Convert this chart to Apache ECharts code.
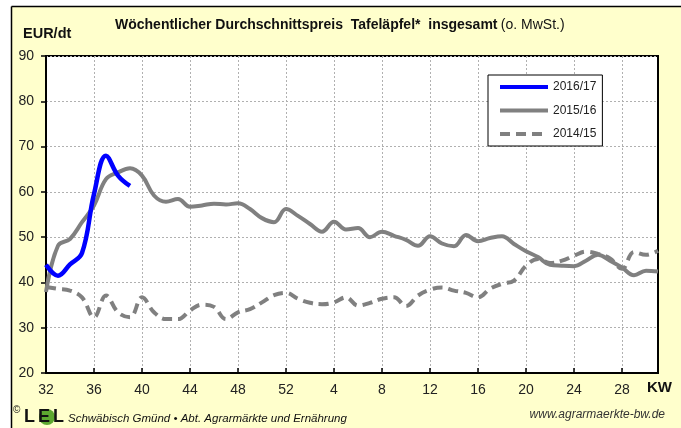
<!DOCTYPE html>
<html>
<head>
<meta charset="utf-8">
<script src="https://cdn.jsdelivr.net/npm/echarts@6/dist/echarts.min.js"></script>
<style>
	html, body { margin: 0; padding: 0; background: #fff; }
	#main { width: 681px; height: 428px; }
</style>
</head>
<body>
<div id="main"></div>
<script>
// calendar weeks, season runs from week 32 to week 31 of next year
const weeks = [32, 33, 34, 35, 36, 37, 38, 39, 40, 41, 42, 43, 44, 45, 46, 47, 48, 49, 50, 51, 52,
	1, 2, 3, 4, 5, 6, 7, 8, 9, 10, 11, 12, 13, 14, 15, 16, 17, 18, 19, 20, 21, 22, 23, 24, 25, 26, 27, 28, 29, 30, 31]

const s1617 = [43.9, 41.5, 44.0, 46.5, 59.5, 68.0, 63.6, 61.3]

const s1516 = [37.9, 48.1, 49.6, 53.3, 57.0, 62.8, 64.3, 65.2, 63.6, 59.2, 57.8, 58.4, 56.7, 57.0, 57.4, 57.2, 57.5, 56.2, 54.2, 53.3, 56.2,
	54.7, 52.9, 51.2, 53.4, 51.7, 52.0, 50.0, 51.2, 50.3, 49.4, 48.1, 50.2, 48.6, 48.0, 50.5, 49.1, 49.8, 50.2, 48.5, 46.9, 45.6, 43.9, 43.7, 43.6, 44.8, 46.1, 44.8, 43.3, 41.6, 42.6, 42.4]

const s1415 = [39.0, 38.6, 38.2, 36.7, 32.3, 37.1, 33.4, 32.3, 36.7, 33.4, 31.9, 31.9, 33.8, 35.1, 34.6, 31.9, 33.4, 34.1, 35.6, 37.2, 37.7,
	36.4, 35.5, 35.2, 35.6, 36.7, 34.9, 35.5, 36.4, 36.7, 34.8, 37.1, 38.4, 38.9, 38.2, 37.7, 36.7, 38.6, 39.7, 40.4, 43.7, 45.2, 44.3, 44.8, 45.9, 46.8, 46.3, 45.3, 43.0, 46.7, 46.1, 47.0]

const seriesNames = ['2016/17', '2015/16', '2014/15']

const chart = echarts.init(document.getElementById('main'))

const gray = '#808080'
const font = 'Liberation Sans, Arial, sans-serif'

const option = {
	animation: false,
	backgroundColor: '#FFFFCC',
	textStyle: { fontFamily: font },
	grid: {
		left: 46, right: 23, top: 56, bottom: 55,
		show: true, backgroundColor: '#fff', borderColor: '#000', borderWidth: 2,
	},
	legend: {
		orient: 'vertical',
		left: 488, top: 75,
		data: seriesNames,
		itemWidth: 48, itemHeight: 14, itemGap: 11.5,
		padding: [6, 6, 6, 10],
		backgroundColor: '#fff', borderColor: '#000', borderWidth: 1, borderRadius: 0,
		itemStyle: { opacity: 0 },
		lineStyle: { width: 4 },
		textStyle: { fontSize: 12, color: '#222', fontFamily: font },
	},
	xAxis: {
		type: 'category',
		data: weeks,
		boundaryGap: false,
		axisLine: { lineStyle: { color: '#000', width: 2 } },
		axisTick: { inside: true, length: 5, interval: 3, lineStyle: { color: '#000', width: 1.5 } },
		axisLabel: { interval: 3, margin: 10, fontSize: 14, color: '#222' },
		splitLine: { show: true, interval: 3, lineStyle: { color: '#b0b0b0', type: [2, 2], width: 1 } },
	},
	yAxis: {
		type: 'value',
		min: 20, max: 90, interval: 10,
		axisLine: { show: true, lineStyle: { color: '#000', width: 2 } },
		axisTick: { show: true, length: 5, lineStyle: { color: '#000', width: 1.5 } },
		axisLabel: { margin: 12, fontSize: 14, color: '#222' },
		splitLine: { lineStyle: { color: '#b0b0b0', type: [2, 2], width: 1 } },
	},
	series: [
		{
			name: '2016/17', type: 'line', data: s1617, smooth: 0.4, symbol: 'none', z: 5,
			lineStyle: { color: '#0000FF', width: 4.5 }, itemStyle: { color: '#0000FF' },
		},
		{
			name: '2015/16', type: 'line', data: s1516, smooth: 0.4, symbol: 'none', z: 4,
			lineStyle: { color: gray, width: 4 }, itemStyle: { color: gray },
		},
		{
			name: '2014/15', type: 'line', data: s1415, smooth: 0.4, symbol: 'none', z: 3,
			lineStyle: { color: gray, width: 4, type: [10, 6] }, itemStyle: { color: gray },
		},
	],
	graphic: [
		// white margin strips and the frame of the yellow panel
		{ type: 'rect', shape: { x: 0, y: 0, width: 11, height: 428 }, style: { fill: '#fff' }, silent: true },
		{ type: 'rect', shape: { x: 0, y: 0, width: 681, height: 6 }, style: { fill: '#fff' }, silent: true },
		{ type: 'line', shape: { x1: 11.5, y1: 6.5, x2: 11.5, y2: 428 }, style: { stroke: '#000', lineWidth: 1.5 }, silent: true },
		{ type: 'line', shape: { x1: 11.5, y1: 6.5, x2: 681, y2: 6.5 }, style: { stroke: '#000', lineWidth: 1.5 }, silent: true },
		{
			type: 'text', left: 115, top: 18,
			style: {
				text: '{b|Wöchentlicher Durchschnittspreis  Tafeläpfel*  insgesamt} {n|(o. MwSt.)}',
				rich: {
					b: { fontFamily: font, fontSize: 14, fontWeight: 'bold', fill: '#111' },
					n: { fontFamily: font, fontSize: 14, fill: '#111' },
				},
			},
		},
		{ type: 'text', left: 23, top: 26, style: { text: 'EUR/dt', font: 'bold 14.5px ' + font, fill: '#111' } },
		{ type: 'text', left: 647, top: 380, style: { text: 'KW', font: 'bold 15px ' + font, fill: '#111' } },
		// footer
		{ type: 'text', left: 13, top: 405, style: { text: '©', font: '10px ' + font, fill: '#111' } },
		{ type: 'text', left: 24, top: 408, style: { text: 'L', font: 'bold 18px ' + font, fill: '#111' } },
		{ type: 'circle', shape: { cx: 47, cy: 417, r: 8 }, style: { fill: '#5DA830' } },
		{ type: 'text', left: 38, top: 408, style: { text: 'E', font: 'bold 18px ' + font, fill: '#111' } },
		{ type: 'text', left: 53, top: 408, style: { text: 'L', font: 'bold 18px ' + font, fill: '#111' } },
		{ type: 'text', left: 68, top: 413, style: { text: 'Schwäbisch Gmünd • Abt. Agrarmärkte und Ernährung', font: 'italic 11.5px ' + font, fill: '#111' } },
		{ type: 'text', right: 16, top: 409, style: { text: 'www.agrarmaerkte-bw.de', font: 'italic 12px ' + font, fill: '#333' } },
	],
}

chart.setOption(option)
</script>
</body>
</html>
